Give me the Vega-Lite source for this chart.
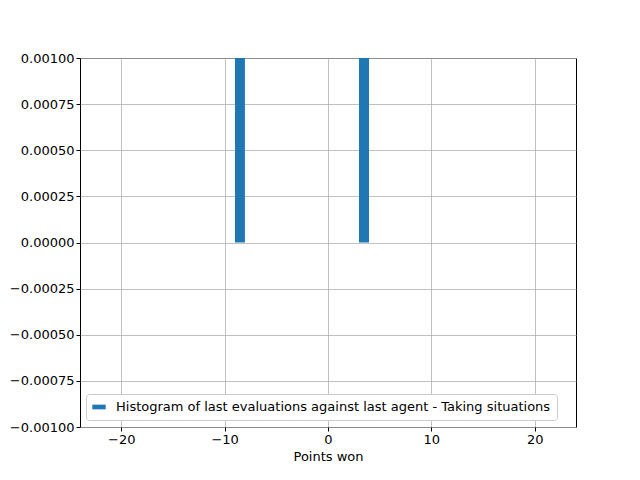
{
  "$schema": "https://vega.github.io/schema/vega-lite/v6.json",
  "width": 496,
  "height": 369,
  "autosize": "none",
  "padding": {"left": 80, "top": 58, "right": 64, "bottom": 53},
  "config": {
    "font": "DejaVu Sans",
    "view": {"stroke": "black", "strokeWidth": 1},
    "axis": {
      "gridColor": "#b0b0b0", "gridOpacity": 1, "gridWidth": 0.8,
      "domain": false, "tickColor": "black", "tickSize": 4,
      "labelFontSize": 13, "labelColor": "black", "labelFont": "DejaVu Sans",
      "titleFont": "DejaVu Sans", "titleFontSize": 13, "titleFontWeight": "normal", "titleColor": "black"
    }
  },
  "data": {
    "values": [
      {"start": -9.0, "end": -8.04, "count": 1, "series": "Histogram of last evaluations against last agent - Taking situations"},
      {"start": 3.0, "end": 3.97, "count": 1, "series": "Histogram of last evaluations against last agent - Taking situations"}
    ]
  },
  "mark": {"type": "bar", "clip": true, "color": "#1f77b4"},
  "encoding": {
    "x": {
      "field": "start", "type": "quantitative",
      "scale": {"domain": [-24, 24], "nice": false, "zero": false},
      "axis": {"values": [-20, -10, 0, 10, 20], "title": "Points won", "titlePadding": 4, "labelFlush": false}
    },
    "x2": {"field": "end"},
    "y": {
      "field": "count", "type": "quantitative",
      "scale": {"domain": [-0.001, 0.001], "nice": false},
      "axis": {"values": [-0.001, -0.00075, -0.0005, -0.00025, 0, 0.00025, 0.0005, 0.00075, 0.001], "format": ".5f", "title": null, "labelFlush": false}
    },
    "y2": {"datum": 0},
    "color": {
      "field": "series", "type": "nominal",
      "scale": {"range": ["#1f77b4"]},
      "legend": {
        "title": null, "orient": "none", "legendX": 6, "legendY": 336,
        "symbolType": "M-1,-0.35H1V0.35H-1Z", "symbolSize": 180, "symbolStrokeWidth": 0,
        "labelFontSize": 13, "labelLimit": 700, "labelOffset": 10,
        "strokeColor": "#cccccc", "fillColor": "white", "padding": 6, "cornerRadius": 3
      }
    }
  }
}
